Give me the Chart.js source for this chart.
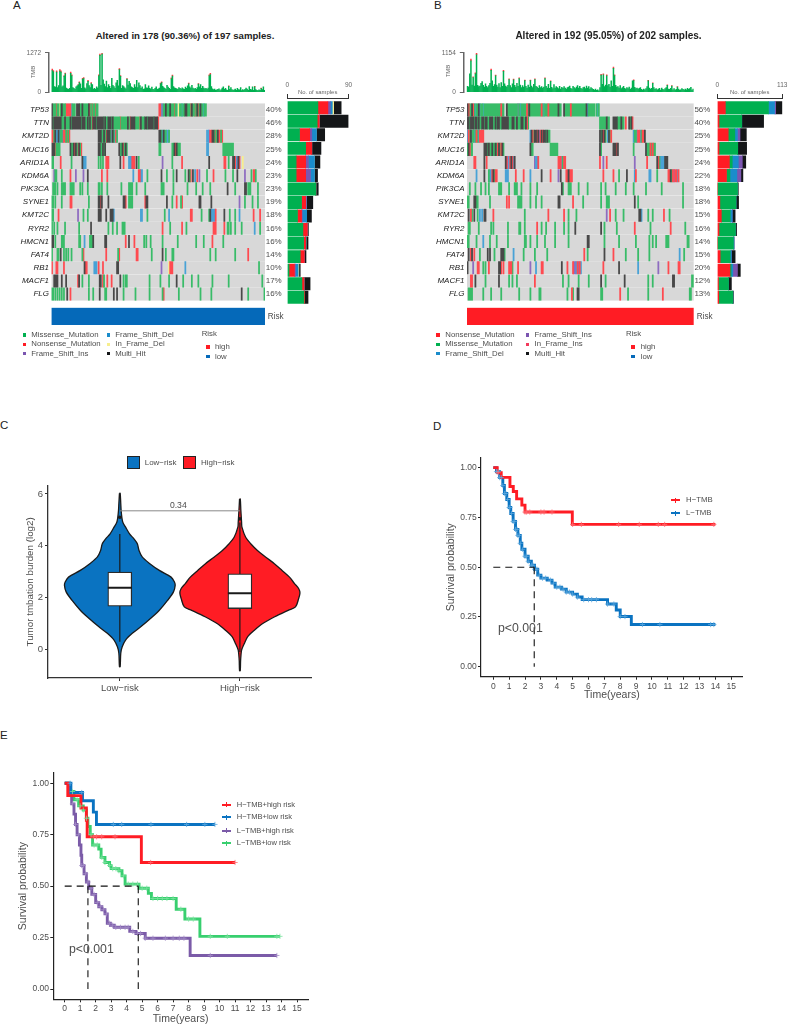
<!DOCTYPE html>
<html>
<head>
<meta charset="utf-8">
<title>Figure</title>
<script src="https://cdn.jsdelivr.net/npm/chart.js@4/dist/chart.umd.min.js"></script>
<style>
  html, body { margin: 0; padding: 0; background: #fff; }
  #page { position: relative; width: 789px; height: 1031px; overflow: hidden; background: #fff; font-family: "Liberation Sans", sans-serif; }
  #page canvas { position: absolute; }
  .t { position: absolute; white-space: nowrap; line-height: 1; }
  .s { position: absolute; }
</style>
</head>
<body>
<div id="page"></div>
<script>
// ---------- panels A / B : gene rows ----------
const genes = ["TP53", "TTN", "KMT2D", "MUC16", "ARID1A", "KDM6A", "PIK3CA", "SYNE1", "KMT2C", "RYR2", "HMCN1", "FAT4", "RB1", "MACF1", "FLG"];
const pctA = ["40%", "46%", "28%", "25%", "24%", "23%", "23%", "19%", "18%", "16%", "16%", "14%", "10%", "17%", "16%"];
const pctB = ["56%", "40%", "25%", "25%", "24%", "22%", "18%", "18%", "15%", "16%", "14%", "15%", "20%", "12%", "13%"];

// samples per cohort, one token per mutated run: type + first sample + optional run length
const samplesA = 197;
const samplesB = 202;
const rowsA = [
  "H0 M1+3 N4 M5+2 Y7 M8 H9 M10+3 N13+5 D18 M19+3 H23+3 M26+2 H28 M29+5 H34 N35 M36 N37 M38+2 N40 M41+2 N99+2 D101 I102 M103+2 H105 M106+3 H109 M110+3 N113 M114+2 Y117 M118+2 D120 M121+2 H123+2 M125+3 N128 H129 M130+2 N132 M133 H134 N135 M136 H137 M138+2 D140 M141+2",
  "H0 M1 H2+7 M9+3 H12 M13+4 H17 M18 H19+8 M27 H28+3 M31+2 H33 M34 H35 M36 N37 H38+3 M41 H42+6 M48 H49 M50+2 H52+3 M55 H56 M57+6 N63 M64+6 H70 M71 N72 H73+4 M77+4 N81 H82 M83+3 H86+2 M88 H89+5 M94 H95+3 N98",
  "N0+2 M2 H3 D4+2 H6 D7 M8+2 I10 N11+2 M13 N14 M15 N16 H43+3 M46+2 H48 M49 N50 H51+3 M54 I55 H56 M57 D58 N59 M60 H99+2 M101 D102 H103 M104+2 D106+2 M108 D143+2 I145 N146+2 H148+2 M150 N151 M152 H153 N154+2 M156 N157",
  "H0+3 N3 M4+4 H17 M18+2 H20 N21 H22 M23 N24 H25 M26 N27 H43+2 M45+2 H47 M48 H49 H62 M63+2 H65 N66 M67 H68 M69 M99+2 M111+2 H113 N114 H115 M116+3 D143+2 M158+10",
  "M0+2 N8 M18 H28 D29+3 M43 M45 M47 N50+3 H63 N66 D71+3 N74+3 H78 M80 I102 M111 N120 H145 N159+2 M163 H167+2 N169 D170 I171 H172 N173 Y176",
  "I2 M3+2 M9 N17 I22 I29 H33 N46 N51 D75 N80+2 D82+2 M88 H101 M106 M112 H115 M123 H126 M127 N128 H130 D132 N134 I136 M143 N149 M160 M167 H171 I178 M184 N186+2 M188",
  "M1+3 M5 M9+4 M17+4 M26 M28 M33 M43+2 M46 M51 M64 M71+4 M78 M86 M101+3 M112 M125 M133 M139 M146 H162 M169 H178+2 M181+3 M190",
  "M0+2 M3 M9 N17+2 M34 H43+2 N45 H46 H52 H66+2 N68 M71+4 N86 H87+2 H106 M111 N115 M119 N120 H136+2 H147 I173 M178 M185 M190",
  "M0+2 N6 I24 M29 M33 H43+3 H50 H54+2 H56 D57 D82+2 M88 M104 D108 N128+2 M138 M145 H146 D147+4 N151 H159 M164 M169 D173 N186 N192",
  "M0 M2 M5 M12 M25 H36 M52 M56 M60 M65+3 N102 M109 N120 M124 N149+3 N159 M162+2 M165 M169 M175 D187 M192",
  "H0+2 M3 M9+3 M25+2 D30 M35+3 H38 H49+2 N68 H71 N76 M85 M87 M91 M102 M116 M133 M140 N148 M158",
  "M0 M5+2 H8 M11 M13 M15 M18 M28 N29 N50 M61 N62 N78+2 M92 H102 M105 M111+2 M146 M151 M169 N181",
  "N0 N4+2 N11 H30 N31+2 D39+3 N43 N47 H60+2 I101 Y108 N109+3 D123 M191",
  "H2+4 H9 H13 N24 H25 M28 M34 H44+2 N47 M48 N51 N55 H63 M66 M68+2 M90 M100 M108 H115 M121 M129 M135 M148 M163 M194",
  "M0+2 M3 M5 M7 M9 M11 H14 N17 M34 M38 H44 M49+2 H57 H60 M66 M77 M90 M102 N103 M117 M137 M147 H175 M181 M196"
];
const rowsB = [
  "H0 N1 M2+2 H4 N5 M6 D7 M8+2 H10 D11 M12+2 D14 M15+15 N30 M31+2 H35 M36+9 I45 M46 D47 M48+5 N53 M54 H55 M56+10 N66 M67 D68 M69+3 N72 M73+8 H81 M82+2 H86 M87+5 N92 M93+13 H106 D107 M108+6 M115 D116 M117",
  "H0+2 M2 H3+3 M6 H7+2 M9 H10 M11+2 H13+2 M15 H16+2 M18+2 H20+3 M23+2 H25 M26 H27+2 M29+2 H31+6 M37+3 H40+2 M42+2 H44 M45+3 H48+2 M50+2 H52 N53 M54 M118+6 H124 M125+2 H130+4 M134+3 H137 M138+2 N141 H144 M145+2 H146 N147",
  "D0 N1 M2 H3 M4+2 D6 M7 N8 M9 D10 N11+4 D56 H57 N58 M59 H60+2 N62 H63 I64 N65 H66 N67 H68+2 M70 H71 M72+2 H118 M119 H120 N121 H122 M123 D125 H126 M127 N128 D148 M149+2 I151 N152+2 D154 M155 N156+2 H158",
  "M0 H1 N2 M3+2 H15+3 M18 H19 M20+2 H22 M23+2 H25 M26 N27 H28 M29 N30 H31 M32 H56 M57+2 M74+7 H118 M119 H130+3 N133 H134 M148 H159 M160+3 N163 M164 N165 M166+2",
  "N6+2 H15 N17 H34 N35 I36 D37 N38 H39 N40 D41 H42 I60 D61+2 N63 N81+3 D84 M85 N86+2 N118 I121 N124 I149 N160 H169 N170 M171 D172+4 H176+3",
  "D8 H15 M19 D20+2 N22 H23 M24 N25+2 D34+3 N43 N50 D56 H66 N74 I81 H83 N88+2 H90 N91+3 N121 N130 M135 H142 D149 N150 D162+2 M169 N179+2 H181 M182 N183 I184 N185+2 D187 N188",
  "M2 M7 M12 M16 M19 M28+3 M37 M42+3 M48 M56 M62 H84 M85 M90+3 M99 M107 M119 M123 M132 M141 M148 M159 M173 M192",
  "M0+2 H6+2 M8+2 M20 N35 N37 M45+4 M56 M61 M66 H81+2 N94 M103 M119 M124+3 H149 M152 M192",
  "H1 N3 M4 H6 M9 D11 D13 H15+2 N23 M51 N72 N86 M90 M97 I124 N127 M132 M139 H153+2 D155 M161 M165 N175 M180",
  "M1+2 M10 M21 M23 M36 M46+2 M51 N62 M66 M70 M78 M86 M90 H96 H119 M122 M133 N149 M163 N181 M194",
  "M0+2 M8 D14 M20 M26 M36 M51+2 M56 M62 M69 M78 M90 H107+2 M122 M135 M150 M162 M165 M168 M177+3 M196+2",
  "H1 N3 H4 N6 M11 H18 H20 M24 H30+3 M33 D41 M50 M60 M71 N104 M107 H122 N130 M141 M152 M162 D189 M193",
  "H0 I5 N9+2 M14 M16 N19 H28+2 N30 N32 N37+3 M40 N45 I56 D61 N66+2 H84 N89 N94 I95+2 D97 N98 I99 N100 D101 N121 H135 D152 I170 N179 N188+2",
  "N3+2 H7 M16 H28 M37 M40 M44 N60 M85 M90 M99 M108 H119 M123 H140 M161 M165 H183+2 M200+2",
  "M1+4 M14 M21 M30 M46 M56 M64+2 M89 N93 M94 H98+2 M119+2 N136 M143 M161 N174 M198+2"
];

// TMB per sample (main green part) and the few visible red tips [sample, value]
const tmbMaxA = 1272;
const tmbMaxB = 1154;
const tmbA = [
  700,660,180,160,650,150,210,680,650,170,
  200,510,590,130,110,90,120,610,530,150,
  120,90,170,200,230,305,270,120,420,440,
  140,110,280,350,210,150,280,240,100,120,
  90,170,130,530,1190,220,1232,400,260,180,
  360,150,240,190,120,450,220,180,120,300,
  380,200,730,510,120,210,180,140,110,420,
  230,350,280,170,150,120,240,160,380,150,
  300,210,120,170,90,110,240,140,130,200,
  120,100,160,90,80,120,170,90,110,130,
  270,305,190,150,120,90,220,160,120,90,
  430,520,180,140,120,110,90,150,120,100,
  140,110,90,160,120,200,270,170,130,220,
  130,100,120,90,150,260,170,240,120,190,
  130,110,120,90,130,530,570,180,110,80,
  100,60,70,90,110,50,80,130,170,90,
  120,70,60,185,90,150,80,60,70,100,
  60,120,80,70,150,50,80,60,90,130,
  100,60,180,90,70,170,60,175,80,60,
  50,70,60,115,80,170,60
];
const tipsA = [[0,50],[1,40],[4,40],[7,50],[8,40],[11,30],[12,30],[17,40],[18,30],[24,10],[25,25],[28,30],[29,30],[33,30],[36,30],[43,30],[44,40],[46,40],[62,30],[63,30],[69,20],[100,20],[101,25],[110,30],[111,30],[126,20],[135,20],[145,30],[146,40],[163,15],[187,15],[193,15]];
const tmbB = [
  170,150,540,920,210,430,180,540,1100,200,
  160,180,260,310,200,150,240,170,130,190,
  260,640,330,170,220,480,210,150,250,130,
  280,170,610,240,180,150,200,370,190,130,
  240,360,200,150,260,170,400,210,130,190,
  150,340,170,120,210,140,340,180,130,230,
  370,170,150,110,190,130,160,120,150,400,
  170,120,230,110,320,140,100,220,120,160,
  130,100,170,90,140,110,160,120,90,130,
  150,180,110,90,170,130,100,150,190,120,
  170,110,90,130,150,100,180,120,160,90,
  130,100,80,60,90,50,70,40,130,500,
  230,510,160,210,480,190,230,150,330,170,
  700,480,200,150,160,120,190,100,130,170,
  110,90,130,100,150,80,120,330,340,140,
  100,120,90,110,130,80,60,90,70,100,
  160,330,120,90,110,260,130,80,100,70,
  90,110,60,120,80,70,100,130,200,90,
  80,110,180,70,100,60,80,150,90,60,
  70,100,80,60,90,70,110,80,100,140,
  60,90
];
const tipsB = [[3,50],[5,20],[7,30],[8,54],[21,40],[25,20],[32,30],[37,20],[41,20],[46,20],[51,15],[56,15],[60,20],[69,20],[74,15],[119,25],[121,25],[124,25],[130,40],[131,25],[148,20],[161,15],[165,15],[178,15],[182,10],[187,10]];

// number of samples per gene and mutation type (side bars)
const sideMaxA = 90;
const sideMaxB = 113;
const missA = [45,44,18,27,13,13,42,21,15,23,24,19,2.5,21.5,24.5];
const nonsA = [14.7,3,15,9,14,14,0,6,6,6.5,3,6,8,3,1];
const fsiA = [3.5,0,3,0,4,7,0,1,1,0,0,0,1.5,0,0];
const fsdA = [3,0,7,0,9,6,0,0,6.5,0,0.5,0,4,0,0];
const ifdA = [2,0,0,0,0,0,0,0,0,0,0,0,1,0,0];
const mhA = [11,43,12,13.5,8,4.5,3.5,9.5,7,1.5,3,2.5,2,9,5];
const nonsB = [14,3,19,3,21,16,0,4.5,7,3,0,5,22,2,2.5];
const missB = [75,39.5,11.5,32.5,5,6,35,28,15.5,28.5,28,17.5,2,17.5,24.5];
const fsdB = [10.5,0,4.5,0,10.5,12,0,0,3.5,0,1,2,3,0,0];
const fsiB = [2,0,4.5,0,7,7,0,0,0,0,0,0,8,0,0];
const mhB = [11.5,38,11,15.5,6,3.5,1.5,4.5,5,2,0,6.5,5,5,1];

// ---------- panel C : violin outlines ----------
const violinLevelsLow = [6.03,5.62,5.36,5.10,4.91,4.72,4.46,4.27,4.08,3.82,3.56,3.31,3.05,2.79,2.60,2.47,2.22,1.90,1.51,1.26,0.87,0.62,0.36,0.10,-0.15,-0.67];
const violinHalfLow = [.003,.008,.011,.017,.025,.048,.081,.118,.146,.16,.188,.25,.329,.427,.455,.461,.447,.399,.329,.272,.174,.104,.048,.02,.008,.003];
const violinLevelsHigh = [5.81,5.36,4.91,4.72,4.33,4.08,3.82,3.56,3.31,3.05,2.79,2.54,2.35,2.18,1.96,1.64,1.51,1.26,1.0,0.74,0.49,0.23,-0.03,-0.41,-0.82];
const violinHalfHigh = [.003,.008,.014,.017,.048,.09,.146,.216,.287,.351,.413,.455,.489,.5,.489,.463,.402,.29,.19,.121,.065,.037,.014,.006,.003];
const boxLow = { q1: 1.667, med: 2.385, q3: 2.987, lo: 0.295, hi: 4.46, out: 5.1 };
const boxHigh = { q1: 1.577, med: 2.167, q3: 2.92, lo: -0.1, hi: 4.9, out: 5.04 };
const bracketLevel = 5.35;
const violinTicks = [0, 2, 4, 6];

// ---------- panels D / E : survival curves ----------
const timeTicks = [0,1,2,3,4,5,6,7,8,9,10,11,12,13,14,15];
const survTicks = [0, 0.25, 0.5, 0.75, 1];

const dHighT = [0,0.25,0.5,1.05,1.26,1.47,1.8,2.0,4.98,14];
const dHighS = [1,0.975,0.951,0.905,0.88,0.843,0.812,0.777,0.715,0.715];
const dHighCens = [0.3,2.0,2.1,2.3,3.0,3.2,3.7,5.0,5.55,7.9,9.2,10.4,10.8,13.9];
const dLowT = [0,0.2,0.4,0.6,0.7,0.85,1.0,1.1,1.25,1.4,1.55,1.7,1.8,2.0,2.2,2.4,2.6,2.8,3.0,3.4,3.7,3.9,4.3,4.6,5.0,5.3,5.6,7.2,7.75,8.0,8.7,14];
const dLowS = [1,0.98,0.95,0.91,0.87,0.84,0.80,0.77,0.73,0.69,0.66,0.62,0.59,0.555,0.53,0.51,0.49,0.46,0.445,0.435,0.42,0.40,0.39,0.375,0.365,0.35,0.337,0.315,0.285,0.252,0.212,0.212];
const dLowCens = [0.2,0.3,0.4,0.5,0.6,0.7,0.8,0.9,1,1.05,1.15,1.25,1.35,1.4,1.5,1.55,1.65,1.7,1.85,2,2.1,2.2,2.4,2.5,2.6,2.75,2.9,3.1,3.3,3.6,3.8,4,4.2,4.4,4.6,4.8,5,5.3,5.7,6,6.2,6.5,7.2,7.6,8,8.3,9.4,10.5,13.7,13.9];
const dMedian = [2.58];

const eHhT = [0,0.2,1.05,1.4,1.45,4.95,11];
const eHhS = [1,0.94,0.88,0.82,0.74,0.615,0.615];
const eHhCens = [1.85,2.06,2.39,3.25,5.55,11];
const eHlT = [0,0.4,1.15,1.85,2.05,9.7];
const eHlS = [1,0.955,0.915,0.86,0.80,0.80];
const eHlCens = [0.35,1.1,3.14,3.68,5.57,7.87,9.05,9.7];
const eLhT = [0,0.3,0.45,0.6,0.7,0.8,0.95,1.05,1.1,1.25,1.4,1.55,1.75,2,2.2,2.4,2.6,2.75,2.95,3.2,4.2,4.6,5.2,8.1,13.7];
const eLhS = [1,0.95,0.90,0.85,0.80,0.75,0.70,0.65,0.60,0.56,0.52,0.49,0.46,0.42,0.40,0.385,0.365,0.32,0.31,0.30,0.28,0.27,0.247,0.163,0.163];
const eLhCens = [0.5,0.7,0.9,1.1,1.2,1.35,1.5,1.7,1.9,2.1,2.3,2.5,2.7,2.9,3.1,3.3,3.6,3.9,4.1,4.4,4.7,4.9,5.2,5.7,6.5,7,7.4,7.7,9.4,13.7];
const eLlT = [0,0.3,0.6,0.9,1.2,1.4,1.5,1.65,1.8,2.2,2.35,2.6,2.9,3.0,3.5,3.7,3.9,4.8,5.4,5.6,7.2,7.76,8.73,13.9];
const eLlS = [1,0.96,0.92,0.89,0.87,0.83,0.79,0.75,0.70,0.68,0.64,0.615,0.60,0.585,0.575,0.55,0.51,0.49,0.465,0.44,0.388,0.34,0.256,0.256];
const eLlCens = [0.5,0.8,1.0,1.2,1.4,1.7,1.9,2.1,2.4,2.6,2.9,3.1,3.3,3.5,3.8,4.1,4.4,4.7,5,5.3,5.7,6,6.3,6.6,7,7.5,8,8.3,9.4,10.5,13.7,13.9];
const eMedians = [1.5, 4.75];

// ---------- colours ----------
const GREEN = "#00B050";
const RED = "#FF1C24";
const BLUE = "#0A73C1";
const PURPLE = "#7B55B0";
const FSD = "#1A8CCB";
const YELLOW = "#F7EE8E";
const BLACK = "#141618";
// the cells are softer than the side bars
const typeColors = { M: "#38BC68", N: "#FF4A50", I: "#8E6CC0", D: "#48A2D6", Y: "#F7EE8E", H: "#484848" };
const GREY = "#4d4d4d";

Chart.defaults.font.family = '"Liberation Sans", sans-serif';
Chart.defaults.animation = false;
Chart.defaults.responsive = false;
Chart.defaults.plugins.legend.display = false;
Chart.defaults.plugins.tooltip.enabled = false;

const page = document.getElementById("page");

function addChart(left, top, right, bottom, config) {
  const canvas = document.createElement("canvas");
  canvas.width = right - left;
  canvas.height = bottom - top;
  canvas.style.left = left + "px";
  canvas.style.top = top + "px";
  page.appendChild(canvas);
  return new Chart(canvas, config);
}

function addText(x, y, text, o = {}) {
  const el = document.createElement("div");
  el.className = "t";
  el.textContent = text;
  el.style.left = x + "px";
  el.style.top = y + "px";
  el.style.fontSize = (o.size || 8) + "px";
  el.style.color = o.color || GREY;
  if (o.weight) el.style.fontWeight = o.weight;
  const tx = o.align === "center" ? "-50%" : "0";
  el.style.transform = `translate(${tx}, -50%)` + (o.rotate ? ` rotate(${o.rotate}deg)` : "");
  page.appendChild(el);
}

function addSwatch(x, y, w, h, color, border) {
  const el = document.createElement("div");
  el.className = "s";
  el.style.left = x + "px";
  el.style.top = y + "px";
  el.style.width = w + "px";
  el.style.height = h + "px";
  el.style.background = color;
  if (border) {
    el.style.boxSizing = "border-box";
    el.style.border = border;
  }
  page.appendChild(el);
}

function fixWidth(w) {
  return (scale) => { scale.width = w; };
}
function fixHeight(h) {
  return (scale) => { scale.height = h; };
}
function setTicks(values) {
  return (scale) => { scale.ticks = values.map((v) => ({ value: v })); };
}

// turns the row tokens into one floating-bar dataset per mutation type
function cellDatasets(rows, total) {
  const byType = {};
  rows.forEach((row, r) => {
    row.split(" ").forEach((token) => {
      const m = token.match(/([A-Z])(\d+)(?:\+(\d+))?/);
      const start = +m[2];
      const len = m[3] ? +m[3] : 1;
      (byType[m[1]] = byType[m[1]] || []).push({ y: genes[r], x: [start, start + len] });
    });
  });
  // grey row goes behind the cells, higher order is drawn first
  const sets = [{
    data: genes.map((g) => ({ y: g, x: [0, total] })),
    backgroundColor: "#D8D8D8",
    order: 2
  }];
  Object.keys(byType).forEach((type) => {
    sets.push({ data: byType[type], backgroundColor: typeColors[type], order: 1 });
  });
  return sets;
}

function drawOnco(left, plotLeft, plotRight, rows, total, pct) {
  const chartRight = Math.ceil(plotRight) + 25;
  addChart(left, 96, chartRight, 308, {
    type: "bar",
    data: { datasets: cellDatasets(rows, total) },
    options: {
      indexAxis: "y",
      barThickness: 12.4,
      layout: { padding: { top: 5, bottom: 4 } },
      scales: {
        x: { type: "linear", display: false, min: 0, max: total },
        y: {
          type: "category", labels: genes, offset: true, stacked: true, afterFit: fixWidth(plotLeft - left),
          grid: { display: false, drawTicks: false }, border: { display: false },
          ticks: { autoSkip: false, padding: 2.5, color: "#222", font: { size: 8, style: "italic" } }
        },
        y2: {
          type: "category", labels: pct, offset: true, position: "right", afterFit: fixWidth(chartRight - plotRight),
          grid: { display: false, drawTicks: false }, border: { display: false },
          ticks: { autoSkip: false, padding: 0.7, color: GREY, font: { size: 8 } }
        }
      }
    }
  });
}

function drawTmb(left, plotLeft, plotRight, values, tips, total, maxVal, startPad) {
  const right = Math.ceil(plotRight) + 1;
  addChart(left, 45, right, 100, {
    type: "bar",
    data: {
      datasets: [
        { data: values.map((v, i) => ({ x: i + 0.5, y: v })), backgroundColor: GREEN },
        { data: tips.map((p) => ({ x: p[0] + 0.5, y: p[1] })), backgroundColor: "#FF3A40" }
      ]
    },
    options: {
      barThickness: 0.85,
      layout: { padding: { top: 4, bottom: 4, right: right - plotRight } },
      scales: {
        x: { type: "linear", display: false, offset: false, stacked: true, min: startPad, max: total },
        y: {
          stacked: true, min: 0, max: maxVal, afterFit: fixWidth(plotLeft - left),
          afterBuildTicks: setTicks([0, maxVal]),
          grid: { drawOnChartArea: false, tickLength: 3.5, color: "#666" },
          border: { color: "#666", width: 1.5 },
          ticks: { padding: 4, color: "#666", font: { size: 6.5 }, callback: (v) => v }
        }
      }
    }
  });
}

function drawSide(left, plotLeft, plotRight, maxVal, series) {
  const right = Math.ceil(plotRight) + 12;
  addChart(left, 78, right, 306, {
    type: "bar",
    data: {
      labels: genes.map((g, i) => i),
      datasets: series.map((s) => ({ data: s[0], backgroundColor: s[1] }))
    },
    options: {
      indexAxis: "y",
      barThickness: 12.3,
      layout: { padding: { left: plotLeft - left, right: right - plotRight, bottom: 2 } },
      scales: {
        y: { type: "linear", display: false, offset: false, stacked: true, reverse: true, min: -0.722, max: 14.5 },
        x: {
          position: "top", stacked: true, min: 0, max: maxVal, afterFit: fixHeight(20),
          afterBuildTicks: setTicks([0, maxVal]),
          grid: { drawOnChartArea: false, tickLength: 4, color: "#333" },
          border: { color: "#333", width: 1 },
          ticks: { padding: 5, maxRotation: 0, color: "#666", font: { size: 6.5 }, callback: (v) => v }
        }
      }
    }
  });
}

function drawRisk(plotLeft, plotRight, total, color) {
  const left = Math.floor(plotLeft);
  const right = Math.ceil(plotRight);
  addChart(left, 307, right, 326, {
    type: "bar",
    data: { labels: ["Risk"], datasets: [{ data: [[0, total]], backgroundColor: color }] },
    options: {
      indexAxis: "y",
      categoryPercentage: 1,
      barPercentage: 1,
      layout: { padding: { left: plotLeft - left, right: right - plotRight, top: 0.7, bottom: 1 } },
      scales: {
        x: { type: "linear", display: false, min: 0, max: total },
        y: { display: false }
      }
    }
  });
}

// ---------- A ----------
drawTmb(20, 48.5, 265, tmbA, tipsA, samplesA, tmbMaxA, -3);
drawOnco(0, 51.5, 265, rowsA, samplesA, pctA);
drawSide(279, 287.3, 348.5, sideMaxA, [[missA, GREEN], [nonsA, RED], [fsiA, PURPLE], [fsdA, FSD], [ifdA, YELLOW], [mhA, BLACK]]);
drawRisk(51.5, 265, samplesA, "#0569B9");
addText(13, 6, "A", { size: 11.5, color: "#222" });
addText(185, 36, "Altered in 178 (90.36%) of 197 samples.", { size: 9.6, weight: "bold", color: "#222", align: "center" });
addText(33, 72, "TMB", { size: 6, color: "#666", align: "center", rotate: -90 });
addText(317.7, 93, "No. of samples", { size: 5.9, color: "#666", align: "center" });
addText(267.7, 316.7, "Risk", { size: 8.2 });

const legendLeftA = [["Missense_Mutation", GREEN, 24.3, 335], ["Nonsense_Mutation", RED, 24.3, 344.3], ["Frame_Shift_Ins", PURPLE, 24.3, 353.7], ["Frame_Shift_Del", FSD, 108.3, 335], ["In_Frame_Del", YELLOW, 108.3, 344.3], ["Multi_Hit", BLACK, 108.3, 353.7]];
legendLeftA.forEach((l) => {
  addSwatch(l[2] - 1.7, l[3] - 1.7, 3.4, 3.4, l[1]);
  addText(l[2] + 7, l[3], l[0], { size: 7.8 });
});
addText(201.7, 334, "Risk", { size: 7.8 });
addSwatch(206.3, 345.3, 3.4, 3.4, RED);
addText(215, 347, "high", { size: 7.8 });
addSwatch(206.3, 355, 3.4, 3.4, "#0569B9");
addText(215, 356.7, "low", { size: 7.8 });

// ---------- B ----------
drawTmb(440, 463.3, 693.7, tmbB, tipsB, samplesB, tmbMaxB, -3.3);
drawOnco(395, 467, 693.7, rowsB, samplesB, pctB);
drawSide(710, 717.3, 782.3, sideMaxB, [[nonsB, RED], [missB, GREEN], [fsdB, FSD], [fsiB, PURPLE], [mhB, BLACK]]);
drawRisk(467, 693.7, samplesB, RED);
addText(434, 6, "B", { size: 11.5, color: "#222" });
addText(608.5, 36, "Altered in 192 (95.05%) of 202 samples.", { size: 10, weight: "bold", color: "#222", align: "center" });
addText(447.5, 71, "TMB", { size: 6, color: "#666", align: "center", rotate: -90 });
addText(749.7, 93, "No. of samples", { size: 5.9, color: "#666", align: "center" });
addText(696.7, 316.7, "Risk", { size: 8.2 });

const legendLeftB = [["Nonsense_Mutation", RED, 438, 335], ["Missense_Mutation", GREEN, 438, 344.3], ["Frame_Shift_Del", FSD, 438, 353.7], ["Frame_Shift_Ins", PURPLE, 527.3, 335], ["In_Frame_Ins", "#F23A5C", 527.3, 344.3], ["Multi_Hit", BLACK, 527.3, 353.7]];
legendLeftB.forEach((l) => {
  addSwatch(l[2] - 1.7, l[3] - 1.7, 3.4, 3.4, l[1]);
  addText(l[2] + 7.3, l[3], l[0], { size: 7.8 });
});
addText(626, 334, "Risk", { size: 7.8 });
addSwatch(631.3, 345.3, 3.4, 3.4, RED);
addText(640.7, 347, "high", { size: 7.8 });
addSwatch(631.3, 355, 3.4, 3.4, "#0569B9");
addText(640.7, 356.7, "low", { size: 7.8 });

// ---------- C ----------
function violinPoints(center, levels, half) {
  const left = levels.map((v, i) => ({ x: center - half[i], y: v }));
  const right = levels.map((v, i) => ({ x: center + half[i], y: v })).reverse();
  const pts = left.concat(right);
  pts.push(pts[0]);
  return pts;
}

// fills a closed scatter outline before its stroke is drawn
const outlineFill = {
  id: "outlineFill",
  beforeDatasetDraw(chart, args) {
    const ds = chart.data.datasets[args.index];
    if (!ds.outlineFill) return;
    const ctx = chart.ctx;
    const line = args.meta.dataset;
    line.updateControlPoints(chart.chartArea);
    ctx.save();
    ctx.beginPath();
    line.path(ctx);
    ctx.closePath();
    ctx.fillStyle = ds.outlineFill;
    ctx.fill();
    ctx.restore();
  }
};

function segment(x0, y0, x1, y1, color, width, order) {
  return { data: [{ x: x0, y: y0 }, { x: x1, y: y1 }], showLine: true, pointRadius: 0, borderColor: color, borderWidth: width, order: order };
}

addChart(24, 478, 315, 700, {
  type: "scatter",
  data: {
    datasets: [
      { data: violinPoints(1, violinLevelsLow, violinHalfLow), showLine: true, tension: 0.3, pointRadius: 0, borderColor: "#1a1a1a", borderWidth: 1.3, outlineFill: BLUE, order: 8 },
      { data: violinPoints(2, violinLevelsHigh, violinHalfHigh), showLine: true, tension: 0.3, pointRadius: 0, borderColor: "#1a1a1a", borderWidth: 1.3, outlineFill: RED, order: 8 },
      segment(1, boxLow.lo, 1, boxLow.hi, "#1a1a1a", 1.2, 7),
      segment(2, boxHigh.lo, 2, boxHigh.hi, "#1a1a1a", 1.2, 7),
      {
        type: "bar",
        data: [{ x: 1, y: [boxLow.q1, boxLow.q3] }, { x: 2, y: [boxHigh.q1, boxHigh.q3] }],
        backgroundColor: "#fff", borderColor: "#2a2a2a", borderWidth: 1.3, borderSkipped: false, barThickness: 24, order: 6
      },
      segment(0.9, boxLow.med, 1.1, boxLow.med, "#1a1a1a", 2, 5),
      segment(1.9, boxHigh.med, 2.1, boxHigh.med, "#1a1a1a", 2, 5),
      { data: [{ x: 1, y: boxLow.out }, { x: 2, y: boxHigh.out }], pointRadius: 1.8, pointBackgroundColor: "#1a1a1a", pointBorderWidth: 0, order: 4 },
      segment(1, bracketLevel, 2, bracketLevel, "#888", 1, 3)
    ]
  },
  options: {
    layout: { padding: { top: 7 } },
    scales: {
      x: {
        type: "linear", offset: false, min: 0.402, max: 2.592, afterFit: fixHeight(22),
        afterBuildTicks: setTicks([1, 2]),
        grid: { drawOnChartArea: false, offset: false, tickLength: 3, color: "#333" },
        border: { color: "#333", width: 1.3 },
        ticks: { padding: 2, maxRotation: 0, color: GREY, font: { size: 9.5 }, callback: (v) => (v === 1 ? "Low\u2212risk" : "High\u2212risk") }
      },
      y: {
        min: -1.104, max: 6.32, afterFit: fixWidth(24),
        afterBuildTicks: setTicks(violinTicks),
        title: { display: true, text: "Tumor tmbation burden (log2)", color: GREY, padding: 0, font: { size: 9.8 } },
        grid: { drawOnChartArea: false, tickLength: 3, color: "#333" },
        border: { color: "#333", width: 1.3 },
        ticks: { padding: 2, color: GREY, font: { size: 9.5 } }
      }
    }
  },
  plugins: [outlineFill]
});
addText(0, 426, "C", { size: 11.5, color: "#222" });
addText(178.3, 505, "0.34", { size: 8.6, align: "center" });
addSwatch(126.7, 455.7, 13.3, 13.3, BLUE, "1px solid #222");
addText(144.7, 462.7, "Low\u2212risk", { size: 8 });
addSwatch(182.7, 455.7, 13.3, 13.3, RED, "1px solid #222");
addText(201, 462.7, "High\u2212risk", { size: 8 });

// ---------- D / E ----------
function survAt(times, surv, t) {
  let s = surv[0];
  times.forEach((v, i) => { if (v <= t) s = surv[i]; });
  return s;
}

function curve(times, surv, color, thinFrom) {
  const set = {
    data: times.map((t, i) => ({ x: t, y: surv[i] })),
    showLine: true, stepped: true, pointRadius: 0, borderColor: color, borderWidth: 2.9, borderJoinStyle: "miter", order: 2
  };
  if (thinFrom !== undefined) {
    set.segment = { borderWidth: (c) => (c.p0.parsed.x >= thinFrom ? 1 : 2.9) };
  }
  return set;
}

function censor(times, surv, marks, color) {
  return {
    data: marks.map((t) => ({ x: t, y: survAt(times, surv, t) })),
    pointStyle: "cross", pointRadius: 2.6, pointBorderColor: color, pointBorderWidth: 0.8, order: 1
  };
}

function dashed(x0, y0, x1, y1) {
  return { data: [{ x: x0, y: y0 }, { x: x1, y: y1 }], showLine: true, pointRadius: 0, borderColor: "#111", borderWidth: 1.1, borderDash: [7, 5], order: 0 };
}

function kmOptions(min, max, yWidth, xHeight, top, right) {
  return {
    layout: { padding: { top: top, right: right } },
    scales: {
      x: {
        type: "linear", min: min, max: max, afterFit: fixHeight(xHeight),
        afterBuildTicks: setTicks(timeTicks),
        title: { display: true, text: "Time(years)", color: GREY, padding: 0, font: { size: 10.5 } },
        grid: { drawOnChartArea: false, tickLength: 3, color: "#222" },
        border: { color: "#222", width: 1.2 },
        ticks: { autoSkip: false, maxRotation: 0, padding: 1.5, color: GREY, font: { size: 8.5 } }
      },
      y: {
        min: -0.05, max: 1.05, afterFit: fixWidth(yWidth),
        afterBuildTicks: setTicks(survTicks),
        title: { display: true, text: "Survival probability", color: GREY, padding: 0, font: { size: 10.5 } },
        grid: { drawOnChartArea: false, tickLength: 3, color: "#222" },
        border: { color: "#222", width: 1.2 },
        ticks: { padding: 1.3, color: GREY, font: { size: 8.5 }, callback: (v) => v.toFixed(2) }
      }
    }
  };
}

function kmLegend(x, y, label, color, textX, size) {
  addSwatch(x, y - 1.2, 9.5, 2.4, color);
  addSwatch(x + 4.3, y - 2.5, 0.8, 5, color);
  addText(textX, y, label, { size: size });
}

addChart(445, 450, 750, 701, {
  type: "scatter",
  data: {
    datasets: [
      curve(dHighT, dHighS, RED, 10.7),
      curve(dLowT, dLowS, BLUE),
      censor(dHighT, dHighS, dHighCens, "#FF6A70"),
      censor(dLowT, dLowS, dLowCens, "#5CA8DE"),
      dashed(0, 0.5, dMedian[0], 0.5),
      dashed(dMedian[0], 0.5, dMedian[0], 0)
    ]
  },
  options: kmOptions(-0.775, 15.72, 36, 24.3, 7.7, 7.3)
});
addText(433, 427, "D", { size: 11.5, color: "#222" });
addText(498, 628, "p<0.001", { size: 12.3 });
kmLegend(670.7, 500, "H\u2212TMB", RED, 686, 7.8);
kmLegend(670.7, 513.3, "L\u2212TMB", BLUE, 686, 7.8);

const ePurple = "#7B5BA8";
const eGreen = "#38CF6F";
addChart(17, 766, 315, 1025, {
  type: "scatter",
  data: {
    datasets: [
      curve(eHhT, eHhS, RED),
      curve(eHlT, eHlS, BLUE),
      curve(eLhT, eLhS, ePurple),
      curve(eLlT, eLlS, eGreen),
      censor(eHhT, eHhS, eHhCens, "#FF6A70"),
      censor(eHlT, eHlS, eHlCens, "#5CA8DE"),
      censor(eLhT, eLhS, eLhCens, "#A38DC6"),
      censor(eLlT, eLlS, eLlCens, "#7CE3A0"),
      dashed(0, 0.5, eMedians[1], 0.5),
      dashed(eMedians[0], 0.5, eMedians[0], 0),
      dashed(eMedians[1], 0.5, eMedians[1], 0)
    ]
  },
  options: kmOptions(-0.736, 15.71, 36.3, 25.7, 7, 7)
});
addText(0, 736, "E", { size: 11.5, color: "#222" });
addText(69, 949, "p<0.001", { size: 12.3 });
kmLegend(221.7, 804.7, "H\u2212TMB+high risk", RED, 236.7, 7.55);
kmLegend(221.7, 817.3, "H\u2212TMB+low risk", BLUE, 236.7, 7.55);
kmLegend(221.7, 830.7, "L\u2212TMB+high risk", ePurple, 236.7, 7.55);
kmLegend(221.7, 843.3, "L\u2212TMB+low risk", eGreen, 236.7, 7.55);
</script>
</body>
</html>
